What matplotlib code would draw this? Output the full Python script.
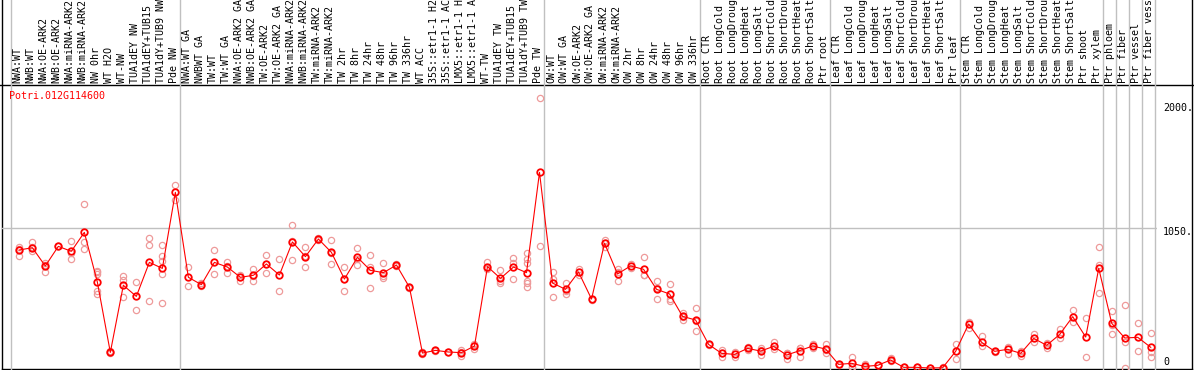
import matplotlib
matplotlib.use("Agg")
import matplotlib.pyplot as plt
from matplotlib.transforms import blended_transform_factory

# sample names, in plot order
samples = [
    "NWA:WT", "NWB:WT", "NWA:OE-ARK2", "NWB:OE-ARK2", "NWA:miRNA-ARK2", "NWB:miRNA-ARK2",
    "NW 0hr", "WT H2O", "WT-NW", "TUA1dEY NW", "TUA1dEY+TUB15 NW", "TUA1dY+TUB9 NW", "Pde NW",
    "NWA:WT GA", "NWBWT GA", "TW:WT", "TW:WT GA", "NWA:OE-ARK2 GA", "NWB:OE-ARK2 GA",
    "TW:OE-ARK2", "TW:OE-ARK2 GA", "NWA:miRNA-ARK2 GA", "NWB:miRNA-ARK2 GA", "TW:miRNA-ARK2",
    "TW:miRNA-ARK2", "TW 2hr", "TW 8hr", "TW 24hr", "TW 48hr", "TW 96hr", "TW 336hr", "WT ACC",
    "35S::etr1-1 H2O", "35S::etr1-1 ACC", "LMX5::etr1-1 H2O", "LMX5::etr1-1 ACC", "WT-TW",
    "TUA1dEY TW", "TUA1dEY+TUB15 TW", "TUA1dY+TUB9 TW", "Pde TW",
    "OW:WT", "OW:WT GA", "OW:OE-ARK2", "OW:OE-ARK2 GA", "OW:miRNA-ARK2", "OW:miRNA-ARK2",
    "OW 2hr", "OW 8hr", "OW 24hr", "OW 48hr", "OW 96hr", "OW 336hr",
    "Root CTR", "Root LongCold", "Root LongDrought", "Root LongHeat", "Root LongSalt",
    "Root ShortCold", "Root ShortDrought", "Root ShortHeat", "Root ShortSalt", "Ptr root",
    "Leaf CTR", "Leaf LongCold", "Leaf LongDrought", "Leaf LongHeat", "Leaf LongSalt",
    "Leaf ShortCold", "Leaf ShortDrought", "Leaf ShortHeat", "Leaf ShortSalt", "Ptr leaf",
    "Stem CTR", "Stem LongCold", "Stem LongDrought", "Stem LongHeat", "Stem LongSalt",
    "Stem ShortCold", "Stem ShortDrought", "Stem ShortHeat", "Stem ShortSalt", "Ptr shoot",
    "Ptr xylem", "Ptr phloem", "Ptr fiber", "Ptr vessel", "Ptr fiber vessel",
]

# number of samples in each separated block
group_sizes = [13, 28, 12, 10, 10, 11, 1, 1, 1, 1]

gene = "Potri.012G114600"

means = [
    885, 902, 765, 912, 875, 1017, 645, 117, 620, 537, 792, 747, 1317,
    680, 625, 792, 757, 680, 695, 780, 697, 945, 835, 967, 867, 667, 830, 732, 715,
    772, 605, 112, 132, 120, 115, 165, 760, 672, 757, 715, 1467,
    637, 590, 720, 517, 935, 705, 765, 740, 590, 555, 387, 360,
    177, 110, 102, 147, 127, 162, 97, 130, 165, 142,
    27, 35, 12, 20, 60, 5, 5, 0, 2, 125,
    330, 192, 125, 140, 110, 222, 170, 252, 385, 232, 747,
    335, 225, 230, 155,
]

replicates = [
    [910, 842, 890], [947, 877, 905], [790, 722, 770], [912, 915], [950, 815, 860],
    [1227, 942, 890], [727, 705, 575, 555, 722], [117, 110, 125], [690, 660, 530],
    [642, 432], [972, 920, 500], [922, 842, 800, 702, 485], [1370, 1260],
    [755, 615], [635, 615], [882, 702], [797, 710, 765], [655, 700, 685],
    [742, 655, 690], [845, 712, 782], [817, 577], [1072, 807, 955], [907, 757, 840],
    [957, 975], [957, 780, 865], [755, 575, 670], [900, 770, 820], [845, 597, 755],
    [787, 677, 690], [780, 765], [610, 600], [117, 102, 118], [137, 128], [120, 122],
    [137, 90, 118], [140, 172, 182], [792, 740, 748], [732, 635, 650], [822, 665, 785],
    [862, 820, 785, 652, 635, 605], [2022, 912],
    [717, 530, 665], [635, 555, 580], [742, 700], [520, 512], [962, 905, 940],
    [742, 652, 720], [780, 752], [830, 695, 700], [650, 520, 600], [627, 500, 515],
    [415, 360, 385], [447, 277, 355],
    [180, 175], [135, 80, 115], [120, 85], [160, 135], [147, 97, 137], [197, 145],
    [70, 110, 112], [152, 85, 152], [180, 150], [180, 110, 135],
    [30, 25], [85, 10, 10], [30, 5], [20, 25], [72, 50], [5, 8], [5, 10], [0, 2],
    [2, 5], [180, 65, 130],
    [342, 302], [240, 165], [130, 120], [160, 105], [130, 92], [255, 197], [152, 185],
    [292, 222], [435, 342], [372, 82], [905, 772, 560],
    [427, 255, 325], [472, 197, 2], [335, 125], [260, 117, 85],
]

axis_labels = ["2000.", "1050.", "0"]
axis_values = [2000, 1050, 0]

W, H = 1194, 370
fig = plt.figure(figsize=(W / 100, H / 100), dpi=100)
fig.patch.set_facecolor("white")

# plot box in pixels: x 2..1157, y 85..368 (from top)
ax = fig.add_axes([2 / W, (H - 368) / H, (1157 - 2) / W, (368 - 85) / H])
ax.set_xlim(-1.33, 87.48)
ax.set_ylim(0, 2122)
for s in ax.spines.values():
    s.set_visible(False)
ax.set_xticks([])
ax.set_yticks([])
ax.patch.set_alpha(0)

mono = "DejaVu Sans Mono"
fs = 7.2

# frame around the whole chart
frame = fig.add_axes([0, 0, 1, 1], zorder=-1)
frame.set_xlim(0, W)
frame.set_ylim(H, 0)
frame.axis("off")
frame.plot([2, 2], [0, 369], color="black", lw=1.0)
frame.plot([1192, 1192], [0, 369], color="black", lw=1.0)
frame.plot([0, 1194], [85, 85], color="black", lw=1.0)
frame.plot([2, 1192], [368.5, 368.5], color="black", lw=1.0)

# group separators (gray, full height)
x_off = -0.64
edge = 0
edges = [0]
for g in group_sizes:
    edge += g
    edges.append(edge)
for e in edges:
    ax.axvline(e + x_off, ymin=-0.01, ymax=1.31, color="#c0c0c0", lw=1.0, clip_on=False, zorder=0)

# horizontal gray guide at 1050
ax.axhline(1050, color="#c0c0c0", lw=1.0, zorder=0)

# sample labels at the top
lab_tr = blended_transform_factory(ax.transData, fig.transFigure)
for i, name in enumerate(samples):
    ax.text(i - 0.12, (H - 83) / H, name, transform=lab_tr, rotation=90,
            ha="center", va="bottom", fontsize=fs, family=mono, color="black",
            clip_on=False)

x = list(range(len(samples)))

# replicate points
for i, reps in enumerate(replicates):
    ax.plot([i] * len(reps), reps, linestyle="none", marker="o", ms=4.5,
            mfc="none", mec="#ee9a9a", mew=0.9, clip_on=False, zorder=2)

# mean line and points
ax.plot(x, means, color="#ff0000", lw=0.8, marker="o", ms=4.7,
        mfc="none", mec="#ff0000", mew=1.3, clip_on=False, zorder=3)

# gene name
ax.text(9 / W, (H - 96) / H, gene, transform=fig.transFigure, ha="left",
        va="center", fontsize=fs, family=mono, color="#ff0000")

# right-hand value labels
label_dy = [-7, -4, 6]
for lab, val, dy in zip(axis_labels, axis_values, label_dy):
    ax.annotate(lab, xy=(1, val), xycoords=("axes fraction", "data"),
                xytext=(6, dy), textcoords="offset pixels", ha="left",
                va="center", fontsize=fs, family=mono, color="black",
                annotation_clip=False)

fig.savefig("out.png", dpi=100)
